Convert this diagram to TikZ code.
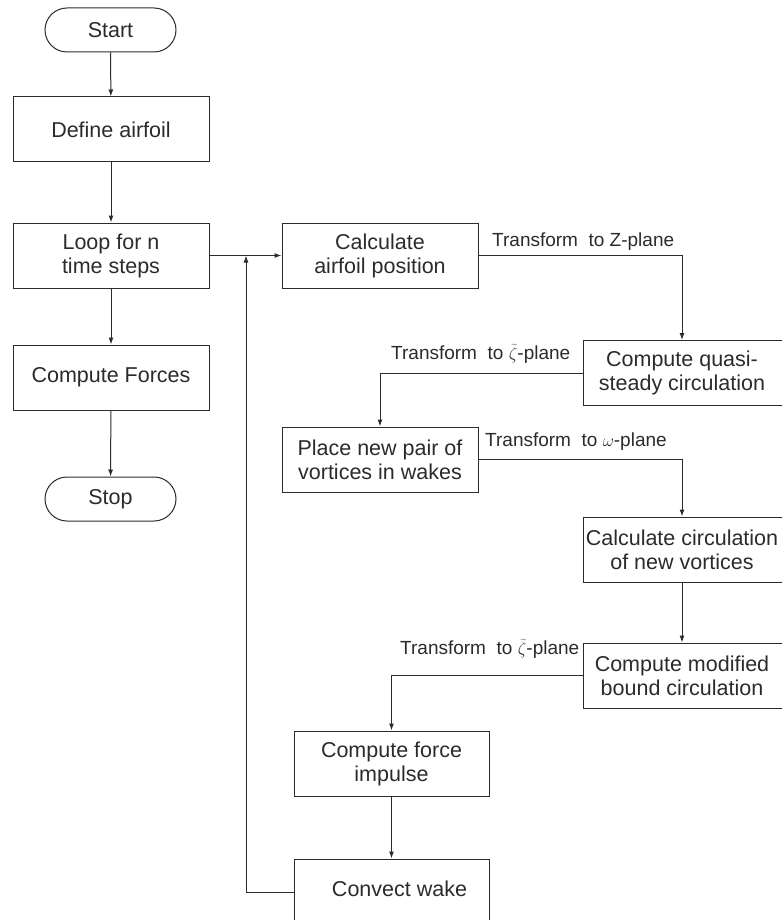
\documentclass[tikz,border=0pt]{standalone}
\usepackage{fontspec}
\setmainfont{Liberation Sans}
\usetikzlibrary{arrows.meta}
\definecolor{ink}{HTML}{2B2B2B}
\begin{document}
\begin{tikzpicture}[x=1pt,y=-1pt,
  every node/.style={text=ink},
  box/.style={draw=ink,line width=1pt,minimum width=196pt,minimum height=65pt,inner sep=0pt,align=center,font=\fontsize{21.5}{24}\selectfont},
  rbox/.style={box,minimum width=240pt},
  term/.style={draw=ink,line width=1pt,minimum width=131pt,minimum height=44pt,rounded corners=22pt,inner sep=0pt,font=\fontsize{21.5}{24}\selectfont},
  lbl/.style={anchor=west,inner sep=0pt,font=\fontsize{19}{22}\selectfont},
  conn/.style={draw=ink,line width=1pt,-{Latex[length=7pt,width=5pt]}}]
\useasboundingbox (0,0) rectangle (782,920);
\clip (0,0) rectangle (782,920);
% left column
\node[term] (start) at (110.5,30) {Start};
\node[box] (define) at (111,129.5) {Define airfoil};
\node[box] (loop) at (111,255.5) {Loop for n\\time steps};
\node[box] (forces) at (111,377.5) {Compute Forces};
\node[term] (stop) at (110.5,499) {Stop};
% middle / right
\node[box] (calc) at (380,255.5) {Calculate\\airfoil position};
\node[rbox] (quasi) at (703,373) {\hspace*{-42pt}Compute quasi-\\\hspace*{-42pt}steady circulation};
\node[box] (place) at (380,459.5) {Place new pair of\\vortices in wakes};
\node[rbox] (circ) at (703,549.5) {\hspace*{-42pt}Calculate circulation\\\hspace*{-42pt}of new vortices};
\node[rbox] (modif) at (703,675.5) {\hspace*{-42pt}Compute modified\\\hspace*{-42pt}bound circulation};
\node[box,minimum width=195pt] (force) at (391.5,763.5) {Compute force\\impulse};
\node[box,minimum width=195pt,minimum height=66pt] (convect) at (391.5,892) {\raisebox{6pt}{\hspace*{16pt}Convect wake}};
\coordinate (colx) at (682,0);
\coordinate (fb) at (246,255.5);
% labels
\node[lbl] (l1) at (492,242) {Transform~~to Z-plane};
\node[lbl] (l2) at (391,354) {Transform~~to $\widetilde{\zeta}$-plane};
\node[lbl] (l3) at (485,442) {Transform~~to $\omega$-plane};
\node[lbl] (l4) at (400,649) {Transform~~to $\widetilde{\zeta}$-plane};
% connectors
\draw[conn] (start) -- (define);
\draw[conn] (define) -- (loop);
\draw[conn] (loop) -- (forces);
\draw[conn] (forces) -- (stop);
\draw[conn] (loop.east) -- (calc.west);
\draw[conn] (convect.west) -| (fb);
\draw[conn] (calc.east) -| (quasi.north -| colx);
\draw[conn] (quasi.west) -| (place.north);
\draw[conn] (place.east) -| (circ.north -| colx);
\draw[conn] (circ.south -| colx) -- (modif.north -| colx);
\draw[conn] (modif.west) -| (force.north);
\draw[conn] (force) -- (convect);
\end{tikzpicture}
\end{document}
